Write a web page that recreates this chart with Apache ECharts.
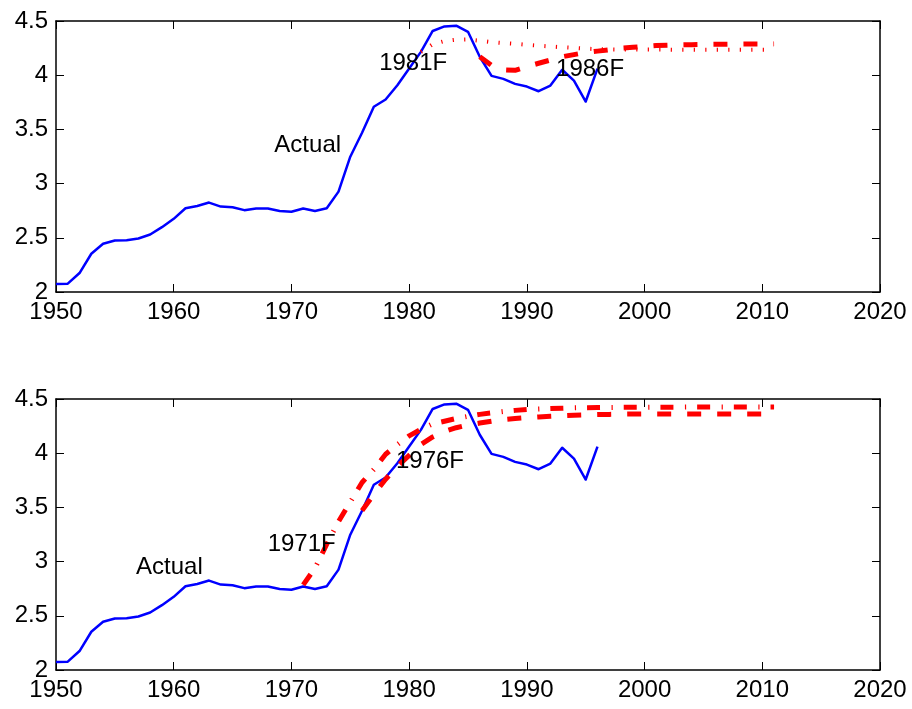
<!DOCTYPE html>
<html>
<head>
<meta charset="utf-8">
<script src="https://cdn.jsdelivr.net/npm/echarts@6/dist/echarts.min.js"></script>
<style>
html,body{margin:0;padding:0;background:#fff;}
#chart{width:912px;height:709px;}
</style>
</head>
<body>
<div id="chart"></div>
<script>
// ---- data ----
const xTicks = [1950, 1960, 1970, 1980, 1990, 2000, 2010, 2020];
const yTicks = [2, 2.5, 3, 3.5, 4, 4.5];

const actualStart = 1950;
const actual = [2.074, 2.077, 2.175, 2.353, 2.445, 2.475, 2.478, 2.494, 2.53, 2.598,
  2.675, 2.773, 2.794, 2.825, 2.788, 2.782, 2.755, 2.77, 2.77, 2.748,
  2.74, 2.77, 2.748, 2.773, 2.926, 3.248, 3.469, 3.709, 3.776, 3.908,
  4.061, 4.215, 4.408, 4.45, 4.457, 4.4, 4.17, 3.994, 3.966, 3.92,
  3.895, 3.852, 3.904, 4.05, 3.95, 3.757, 4.06];

const f1981Start = 1981;
const f1981 = [4.215, 4.285, 4.315, 4.328, 4.33, 4.318, 4.305, 4.297, 4.29, 4.28,
  4.272, 4.265, 4.258, 4.252, 4.245, 4.24, 4.237, 4.236, 4.236, 4.236,
  4.236, 4.236, 4.235, 4.235, 4.235, 4.235, 4.235, 4.235, 4.235, 4.235, 4.235];

const f1986Start = 1986;
const f1986 = [4.17, 4.09, 4.05, 4.045, 4.08, 4.11, 4.14, 4.17, 4.19, 4.21,
  4.222, 4.235, 4.25, 4.257, 4.265, 4.273, 4.277, 4.28, 4.282, 4.284,
  4.285, 4.286, 4.287, 4.288, 4.288, 4.289];

const f1971Start = 1971;
const f1971 = [2.785, 2.94, 3.16, 3.37, 3.55, 3.73, 3.85, 3.99, 4.08, 4.16,
  4.22, 4.27, 4.295, 4.32, 4.34, 4.358, 4.372, 4.385, 4.395, 4.403,
  4.408, 4.412, 4.415, 4.418, 4.42, 4.421, 4.422, 4.423, 4.424, 4.424,
  4.425, 4.425, 4.425, 4.426, 4.426, 4.426, 4.426, 4.426, 4.426, 4.426, 4.426];

const f1976Start = 1976;
const f1976 = [3.47, 3.62, 3.76, 3.88, 3.98, 4.08, 4.15, 4.2, 4.235, 4.26,
  4.278, 4.295, 4.31, 4.32, 4.328, 4.335, 4.34, 4.345, 4.35, 4.353,
  4.356, 4.358, 4.36, 4.361, 4.362, 4.362, 4.362, 4.362, 4.362, 4.362,
  4.362, 4.362, 4.362, 4.362, 4.362, 4.362];

const topLabels = [[1977.45, 4.11, '1981F'], [1992.48, 4.053, '1986F'], [1968.55, 3.35, 'Actual']];
const bottomLabels = [[1956.8, 2.946, 'Actual'], [1967.98, 3.161, '1971F'], [1978.88, 3.928, '1976F']];

// ---- build ----
function pairs(start, vals) { return vals.map((v, i) => [start + i, v]); }

const FONT = "'Liberation Sans', Arial, Helvetica, sans-serif";
const black = '#000000';

function xAxes(gi) {
  const base = {
    type: 'value', gridIndex: gi, min: xTicks[0], max: xTicks[xTicks.length - 1],
    interval: 10, splitLine: { show: false },
    axisLine: { show: true, onZero: false, lineStyle: { color: black, width: 1.5 } },
    axisTick: { show: true, inside: true, length: 8, lineStyle: { color: black, width: 1 } }
  };
  return [
    Object.assign({}, base, { position: 'bottom',
      axisLabel: { show: true, color: black, fontSize: 24, fontFamily: FONT, margin: 8,
        formatter: v => String(v) } }),
    Object.assign({}, base, { position: 'top', axisLabel: { show: false } })
  ];
}
function yAxes(gi) {
  const base = {
    type: 'value', gridIndex: gi, min: yTicks[0], max: yTicks[yTicks.length - 1],
    interval: 0.5, splitLine: { show: false },
    axisLine: { show: true, onZero: false, lineStyle: { color: black, width: 1.5 } },
    axisTick: { show: true, inside: true, length: 8, lineStyle: { color: black, width: 1 } }
  };
  return [
    Object.assign({}, base, { position: 'left',
      axisLabel: { show: true, color: black, fontSize: 24, fontFamily: FONT, margin: 8,
        formatter: v => String(v) } }),
    Object.assign({}, base, { position: 'right', axisLabel: { show: false } })
  ];
}

function lineSeries(ai, data, color, width, dash) {
  return {
    type: 'line', xAxisIndex: ai, yAxisIndex: ai, data: data, symbol: 'none',
    animation: false, silent: true,
    lineStyle: { color: color, width: width, type: dash || 'solid', cap: 'butt', join: 'round', opacity: 1 }
  };
}
function textSeries(ai, labels) {
  return {
    type: 'scatter', xAxisIndex: ai, yAxisIndex: ai, data: labels, symbolSize: 0,
    animation: false, silent: true, z: 10,
    itemStyle: { opacity: 1 },
    label: { show: true, position: 'right', distance: 0, color: black, fontSize: 24,
      fontFamily: FONT, opacity: 1, formatter: p => p.value[2] }
  };
}

const option = {
  backgroundColor: '#fff',
  animation: false,
  grid: [
    { left: 56, top: 21, width: 824, height: 271 },
    { left: 56, top: 399, width: 824, height: 271 }
  ],
  xAxis: xAxes(0).concat(xAxes(1)),
  yAxis: yAxes(0).concat(yAxes(1)),
  series: [
    lineSeries(0, pairs(actualStart, actual), '#0000ff', 2.5),
    lineSeries(0, pairs(f1981Start, f1981), '#ff0000', 4, [1.2, 10.3]),
    lineSeries(0, pairs(f1986Start, f1986), '#ff0000', 5, [14, 16]),
    textSeries(0, topLabels),
    lineSeries(2, pairs(actualStart, actual), '#0000ff', 2.5),
    lineSeries(2, pairs(f1971Start, f1971), '#ff0000', 5, [13, 11.5, 1.2, 11]),
    lineSeries(2, pairs(f1976Start, f1976), '#ff0000', 5, [14, 16]),
    textSeries(2, bottomLabels)
  ]
};

const chart = echarts.init(document.getElementById('chart'), null, { renderer: 'canvas' });
chart.setOption(option);
</script>
</body>
</html>
